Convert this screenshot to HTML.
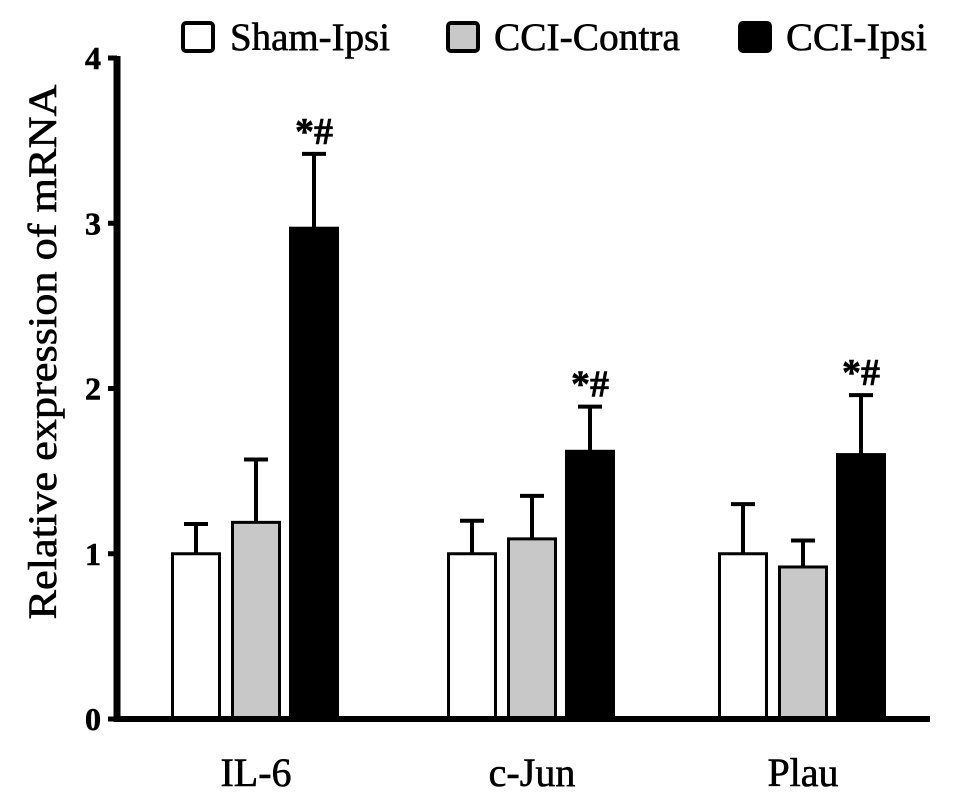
<!DOCTYPE html>
<html><head><meta charset="utf-8"><style>
body{margin:0;background:#fff}
svg{display:block}
text{font-family:"Liberation Serif",serif;font-weight:normal;fill:#000;stroke:#000;stroke-width:0.6}
</style></head><body>
<svg id="chart" width="969" height="802" viewBox="0 0 969 802" xmlns="http://www.w3.org/2000/svg">
<g id="legend">
<g><rect x="183" y="23" width="30" height="28" rx="3" fill="#fff" stroke="#000" stroke-width="4"/><text x="230" y="50" font-size="39" textLength="160" lengthAdjust="spacingAndGlyphs">Sham-Ipsi</text></g>
<g><rect x="448" y="23" width="30" height="28" rx="3" fill="#c8c8c8" stroke="#000" stroke-width="4"/><text x="494" y="50" font-size="39" textLength="186" lengthAdjust="spacingAndGlyphs">CCI-Contra</text></g>
<g><rect x="740" y="23" width="30" height="28" rx="3" fill="#000" stroke="#000" stroke-width="4"/><text x="786" y="50" font-size="39" textLength="141" lengthAdjust="spacingAndGlyphs">CCI-Ipsi</text></g>
</g>
<text transform="translate(56,352) rotate(-90)" text-anchor="middle" font-size="40" textLength="535" lengthAdjust="spacingAndGlyphs">Relative expression of mRNA</text>
<g id="plot"></g>
</svg>
<script>
const categories=["IL-6","c-Jun","Plau"];
const shamValues=[1.0,1.0,1.0];
const contraValues=[1.19,1.09,0.92];
const ipsiValues=[2.97,1.62,1.60];
const shamErr=[0.18,0.20,0.30];
const contraErr=[0.38,0.26,0.16];
const ipsiErr=[0.45,0.27,0.36];
const yTicks=[0,1,2,3,4];
const sigLabels=["*#","*#","*#"];

const NS="http://www.w3.org/2000/svg";
const plot=document.getElementById('plot');
const y0=719,yTop=58,yMax=4;
function y(v){return y0-(v/yMax)*(y0-yTop);}
const groupStart=[171,447,718],barW=50,gap=[0,60,118];
function mk(tag,attrs,parent){const e=document.createElementNS(NS,tag);for(const k in attrs)e.setAttribute(k,attrs[k]);(parent||plot).appendChild(e);return e;}
const series=[{v:shamValues,e:shamErr,fill:"#fff",n:"sham-ipsi"},{v:contraValues,e:contraErr,fill:"#c8c8c8",n:"cci-contra"},{v:ipsiValues,e:ipsiErr,fill:"#000",n:"cci-ipsi"}];
categories.forEach((c,i)=>{
  series.forEach((s,j)=>{
    const x=groupStart[i]+gap[j];const cx=x+barW/2;
    const eb=mk('line',{x1:cx,x2:cx,y1:y(s.v[i]),y2:y(s.v[i]+s.e[i]),stroke:"#000","stroke-width":4});
    
    
    const cap=mk('line',{x1:cx-12,x2:cx+12,y1:y(s.v[i]+s.e[i]),y2:y(s.v[i]+s.e[i]),stroke:"#000","stroke-width":4});
    
    
    const r=mk('rect',{x:x+1.5,y:y(s.v[i]),width:barW-3,height:y0-y(s.v[i]),fill:s.fill,stroke:"#000","stroke-width":3});
    
    
  });
  const ix=groupStart[i]+gap[2]+barW/2;
  const st=mk('text',{x:ix,y:y(ipsiValues[i]+ipsiErr[i])-10,"text-anchor":"middle","font-size":38,style:"font-weight:bold"});
  st.textContent=sigLabels[i];
  
  
  const lab=mk('text',{x:groupStart[i]+gap[1]+barW/2,y:786,"text-anchor":"middle","font-size":40});
  lab.textContent=c;
  
  
});
const ax=mk('line',{x1:117,x2:117,y1:56,y2:722,stroke:"#000","stroke-width":7});


const xa=mk('line',{x1:114,x2:930,y1:719,y2:719,stroke:"#000","stroke-width":6});


yTicks.forEach(t=>{
  const tk=mk('line',{x1:108,x2:117,y1:y(t),y2:y(t),stroke:"#000","stroke-width":5});
  
  
  const tl=mk('text',{x:101,y:y(t)+11,"text-anchor":"end","font-size":32,style:"font-weight:bold"});
  tl.textContent=t;
  
  
});
</script>
</body></html>
